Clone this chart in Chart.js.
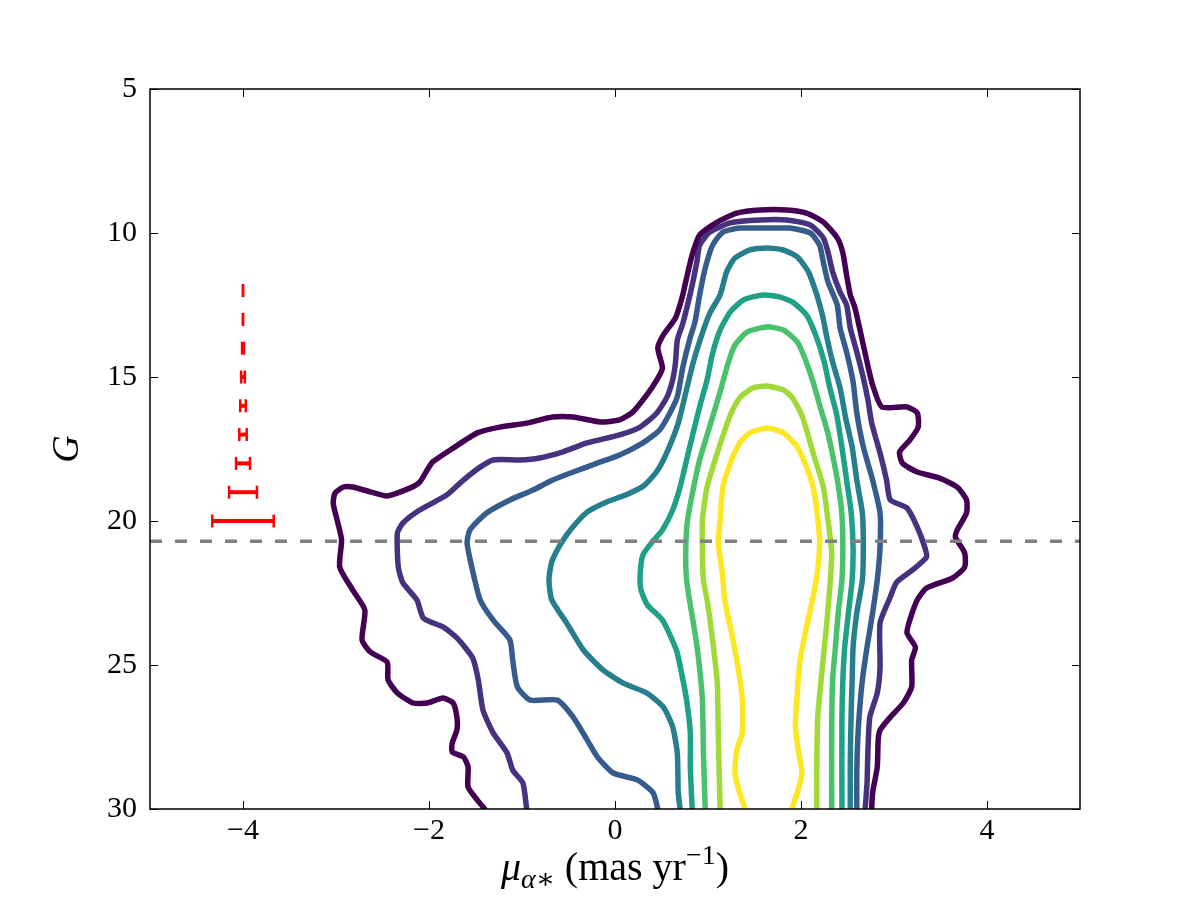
<!DOCTYPE html>
<html>
<head>
<meta charset="utf-8">
<script src="https://cdn.jsdelivr.net/npm/chart.js@4.4.0/dist/chart.umd.min.js"></script>
<style>
  body { margin: 0; background: #fff; }
  canvas { display: block; }
</style>
</head>
<body>
<canvas id="contourChart" width="1200" height="900"></canvas>
<script>
// tick values
const xTicks = [-4, -2, 0, 2, 4];
const gTicks = [5, 10, 15, 20, 25, 30];

// contour colours, outermost level first (viridis)
const levelColors = ['#440154', '#46327e', '#365c8d', '#277f8e', '#1fa187', '#4ac16d', '#a0da39', '#fde725'];

// contour paths as [mu, G] pairs
const level1 = [[-1.40,30.0],[-1.48,29.69],[-1.58,29.24],[-1.58,28.54],[-1.63,28.19],[-1.75,28.02],[-1.75,27.71],[-1.70,27.26],[-1.70,26.81],[-1.74,26.32],[-1.85,26.15],[-2.02,26.32],[-2.17,26.32],[-2.34,25.97],[-2.44,25.52],[-2.45,24.90],[-2.63,24.55],[-2.72,24.13],[-2.69,23.09],[-2.82,22.40],[-2.96,21.60],[-2.94,20.66],[-2.98,20.07],[-3.03,19.38],[-3.01,19.03],[-2.92,18.82],[-2.82,18.82],[-2.63,18.99],[-2.45,19.13],[-2.20,18.85],[-2.10,18.65],[-2.02,18.23],[-1.96,17.95],[-1.74,17.47],[-1.48,16.94],[-1.24,16.74],[-0.95,16.60],[-0.67,16.39],[-0.45,16.39],[-0.16,16.56],[0.05,16.49],[0.19,16.22],[0.34,15.63],[0.45,15.10],[0.51,14.69],[0.46,13.99],[0.52,13.54],[0.65,12.95],[0.72,12.26],[0.77,11.56],[0.83,10.76],[0.91,10.07],[1.10,9.62],[1.31,9.31],[1.56,9.20],[1.85,9.20],[2.06,9.31],[2.24,9.62],[2.39,10.17],[2.45,10.69],[2.49,11.46],[2.53,12.15],[2.58,12.60],[2.63,13.30],[2.71,14.48],[2.77,15.28],[2.87,16.04],[3.14,16.04],[3.25,16.25],[3.26,16.74],[3.17,17.19],[3.06,17.60],[3.09,17.99],[3.25,18.30],[3.49,18.51],[3.68,18.82],[3.78,19.27],[3.78,19.72],[3.68,20.31],[3.66,20.56],[3.76,21.11],[3.76,21.60],[3.63,21.98],[3.35,22.33],[3.25,22.74],[3.17,23.44],[3.14,23.89],[3.23,24.38],[3.19,24.83],[3.19,25.76],[3.10,26.32],[2.96,26.81],[2.85,27.26],[2.83,27.60],[2.82,28.54],[2.77,29.44],[2.76,30.0]];
const level2 = [[-0.95,30.0],[-0.99,29.10],[-1.10,28.65],[-1.16,28.06],[-1.31,27.36],[-1.42,26.56],[-1.47,25.52],[-1.53,24.76],[-1.70,24.06],[-1.85,23.68],[-2.06,23.37],[-2.13,22.74],[-2.28,22.15],[-2.33,21.60],[-2.34,20.42],[-2.28,20.07],[-2.10,19.62],[-1.81,19.10],[-1.63,18.58],[-1.45,18.13],[-1.31,17.88],[-1.02,17.88],[-0.81,17.81],[-0.56,17.60],[-0.30,17.29],[0.05,17.01],[0.27,16.74],[0.45,16.25],[0.56,15.69],[0.62,15.10],[0.65,14.51],[0.67,13.72],[0.73,13.13],[0.78,12.50],[0.83,11.81],[0.88,11.01],[0.91,10.42],[1.02,9.97],[1.24,9.65],[1.56,9.55],[1.85,9.55],[2.10,9.72],[2.24,10.17],[2.29,10.66],[2.34,11.35],[2.42,12.05],[2.49,12.50],[2.53,13.30],[2.60,14.13],[2.67,15.03],[2.72,15.80],[2.76,16.60],[2.85,17.64],[2.92,18.58],[2.96,19.27],[3.14,19.55],[3.25,20.21],[3.33,20.90],[3.35,21.25],[3.20,21.70],[3.03,22.12],[2.96,22.64],[2.85,23.54],[2.85,25.07],[2.82,25.97],[2.74,26.81],[2.72,27.95],[2.71,29.10],[2.69,30.0]];
const level3 = [[0.46,30.0],[0.41,29.44],[0.24,28.99],[-0.02,28.75],[-0.19,28.19],[-0.30,27.60],[-0.45,26.81],[-0.62,26.22],[-0.91,26.22],[-1.05,25.76],[-1.10,24.83],[-1.13,24.13],[-1.31,23.44],[-1.45,22.74],[-1.54,21.60],[-1.59,20.76],[-1.56,20.31],[-1.38,19.72],[-1.13,19.27],[-0.88,18.92],[-0.67,18.58],[-0.45,18.30],[-0.19,17.99],[0.05,17.71],[0.30,17.29],[0.48,16.84],[0.59,16.25],[0.67,15.69],[0.73,14.65],[0.81,13.61],[0.86,13.09],[0.91,12.15],[0.97,11.22],[1.05,10.42],[1.16,9.97],[1.34,9.83],[1.63,9.83],[1.88,9.83],[2.10,10.00],[2.20,10.42],[2.24,11.01],[2.29,11.70],[2.39,12.50],[2.42,13.30],[2.49,14.13],[2.56,15.17],[2.60,16.25],[2.67,17.43],[2.77,18.58],[2.85,19.72],[2.85,20.90],[2.82,22.05],[2.77,23.19],[2.71,24.38],[2.66,25.52],[2.63,26.56],[2.61,27.60],[2.60,28.75],[2.60,30.0]];
const level4 = [[0.70,30.0],[0.68,29.44],[0.67,28.06],[0.62,27.15],[0.52,26.46],[0.34,25.97],[0.09,25.63],[-0.13,25.17],[-0.34,24.48],[-0.52,23.54],[-0.68,22.74],[-0.71,22.05],[-0.68,21.42],[-0.59,20.83],[-0.48,20.31],[-0.30,19.69],[-0.09,19.34],[0.14,19.06],[0.32,18.75],[0.46,18.23],[0.57,17.53],[0.68,16.60],[0.76,15.56],[0.84,14.51],[0.94,13.47],[1.02,12.78],[1.13,12.15],[1.20,11.35],[1.29,10.87],[1.45,10.59],[1.63,10.52],[1.81,10.59],[1.96,10.83],[2.08,11.35],[2.17,12.15],[2.23,12.85],[2.28,13.65],[2.34,14.48],[2.42,15.38],[2.48,16.42],[2.55,17.43],[2.60,18.58],[2.66,19.72],[2.67,20.90],[2.66,22.05],[2.60,23.19],[2.56,24.38],[2.55,25.52],[2.54,26.56],[2.53,28.30],[2.53,30.0]];
const level5 = [[0.83,30.0],[0.81,28.54],[0.81,27.36],[0.77,26.22],[0.72,25.35],[0.66,24.48],[0.51,23.44],[0.35,22.92],[0.28,22.40],[0.27,21.88],[0.30,21.18],[0.40,20.73],[0.51,20.31],[0.62,19.62],[0.70,18.82],[0.77,17.88],[0.84,16.94],[0.91,16.04],[0.99,15.10],[1.05,14.17],[1.13,13.37],[1.24,12.74],[1.38,12.33],[1.59,12.15],[1.77,12.22],[1.91,12.40],[2.06,12.85],[2.17,13.65],[2.25,14.48],[2.31,15.38],[2.38,16.25],[2.44,17.43],[2.49,18.58],[2.54,19.72],[2.56,20.90],[2.55,22.05],[2.51,23.19],[2.47,24.38],[2.45,25.52],[2.44,26.91],[2.44,30.0]];
const level6 = [[0.97,30.0],[0.95,27.95],[0.94,26.22],[0.90,24.83],[0.86,23.89],[0.81,22.92],[0.77,22.05],[0.76,21.11],[0.78,19.97],[0.84,18.92],[0.91,17.88],[1.04,16.49],[1.13,15.52],[1.22,14.48],[1.29,13.89],[1.42,13.44],[1.63,13.26],[1.81,13.37],[1.96,13.78],[2.04,14.34],[2.13,15.17],[2.20,15.97],[2.28,16.84],[2.34,17.71],[2.40,18.75],[2.44,19.79],[2.45,20.90],[2.44,22.05],[2.40,23.19],[2.37,24.38],[2.34,25.52],[2.33,27.36],[2.33,30.0]];
const level7 = [[1.13,30.0],[1.11,27.36],[1.10,25.63],[1.04,23.89],[0.99,22.74],[0.95,22.05],[0.94,21.11],[0.94,19.97],[0.99,18.82],[1.10,17.64],[1.24,16.32],[1.34,15.73],[1.48,15.38],[1.63,15.31],[1.81,15.45],[1.91,15.73],[2.02,16.42],[2.13,17.64],[2.24,18.82],[2.29,19.97],[2.33,21.11],[2.31,22.29],[2.28,23.44],[2.23,25.07],[2.18,26.81],[2.17,28.54],[2.17,30.0]];
const level8 = [[1.40,30.0],[1.34,29.44],[1.29,28.75],[1.31,27.95],[1.37,27.36],[1.37,26.22],[1.31,24.83],[1.24,23.68],[1.18,22.74],[1.15,21.70],[1.11,20.76],[1.13,19.97],[1.16,18.82],[1.24,17.99],[1.34,17.29],[1.45,16.94],[1.63,16.77],[1.81,16.94],[1.96,17.43],[2.06,18.13],[2.13,18.82],[2.17,19.62],[2.20,20.66],[2.18,21.70],[2.13,22.64],[2.06,23.68],[1.99,24.83],[1.96,25.97],[1.94,27.15],[1.97,27.95],[2.01,28.75],[1.96,29.44],[1.90,30.0]];
const levels = [level1, level2, level3, level4, level5, level6, level7, level8];

// magnitude cut (dashed line)
const cutG = 20.7;

// typical proper-motion errors vs magnitude, drawn at mu = -4
const errCenter = -4;
const errG = [12, 13, 14, 15, 16, 17, 18, 19, 20];
const errX = [0.0, 0.0, 0.01, 0.02, 0.03, 0.04, 0.075, 0.15, 0.33];

const serif = '"Liberation Serif", "DejaVu Serif", serif';
const fmtTick = v => String(v).replace('-', '\u2212');

const errorBarPlugin = {
  id: 'errorBars',
  afterDatasetsDraw(chart) {
    const { ctx, scales: { x, y } } = chart;
    ctx.save();
    ctx.strokeStyle = '#ff0000';
    errG.forEach((g, i) => {
      const py = y.getPixelForValue(g);
      const x0 = x.getPixelForValue(errCenter - errX[i]);
      const x1 = x.getPixelForValue(errCenter + errX[i]);
      ctx.lineWidth = 4;
      ctx.beginPath(); ctx.moveTo(x0, py); ctx.lineTo(x1, py); ctx.stroke();
      ctx.lineWidth = 2.5;
      [x0, x1].forEach(px => {
        ctx.beginPath(); ctx.moveTo(px, py - 6.5); ctx.lineTo(px, py + 6.5); ctx.stroke();
      });
    });
    ctx.restore();
  }
};

// box, inward ticks on all sides, and the x label with sub/superscripts
const framePlugin = {
  id: 'frame',
  afterDraw(chart) {
    const { ctx, chartArea: a, scales: { x, y } } = chart;
    ctx.save();
    ctx.strokeStyle = '#000';
    ctx.lineWidth = 1;
    const tl = 8;
    xTicks.forEach(v => {
      const px = Math.round(x.getPixelForValue(v)) + 0.5;
      ctx.beginPath();
      ctx.moveTo(px, a.bottom); ctx.lineTo(px, a.bottom - tl);
      ctx.moveTo(px, a.top); ctx.lineTo(px, a.top + tl);
      ctx.stroke();
    });
    gTicks.forEach(v => {
      const py = Math.round(y.getPixelForValue(v)) + 0.5;
      ctx.beginPath();
      ctx.moveTo(a.left, py); ctx.lineTo(a.left + tl, py);
      ctx.moveTo(a.right, py); ctx.lineTo(a.right - tl, py);
      ctx.stroke();
    });
    ctx.lineWidth = 1.5;
    ctx.strokeRect(a.left, a.top, a.right - a.left, a.bottom - a.top);

    const big = 40, small = 28;
    const parts = [
      { t: '\u03bc', f: `italic ${big}px ${serif}`, dy: 0 },
      { t: '\u03b1\u2217', f: `italic ${small}px ${serif}`, dy: 8 },
      { t: ' (mas yr', f: `${big}px ${serif}`, dy: 0 },
      { t: '\u22121', f: `${small}px ${serif}`, dy: -16 },
      { t: ')', f: `${big}px ${serif}`, dy: 0 }
    ];
    let total = 0;
    parts.forEach(p => { ctx.font = p.f; p.w = ctx.measureText(p.t).width; total += p.w; });
    let cx = (a.left + a.right) / 2 - total / 2;
    const base = 880;
    ctx.fillStyle = '#000';
    ctx.textBaseline = 'alphabetic';
    ctx.textAlign = 'left';
    parts.forEach(p => { ctx.font = p.f; ctx.fillText(p.t, cx, base + p.dy); cx += p.w; });
    ctx.restore();
  }
};

const datasets = [{
  data: [{ x: -5, y: cutG }, { x: 5, y: cutG }],
  borderColor: '#808080',
  borderWidth: 3.5,
  borderDash: [12, 13],
  showLine: true,
  tension: 0
}].concat(levels.map((pts, i) => ({
  data: pts.map(p => ({ x: p[0], y: p[1] })),
  borderColor: levelColors[i],
  borderWidth: 5.5,
  showLine: true,
  tension: 0.2,
  borderJoinStyle: 'round',
  borderCapStyle: 'round'
})));

new Chart(document.getElementById('contourChart'), {
  type: 'scatter',
  data: { datasets: datasets },
  options: {
    responsive: false,
    animation: false,
    layout: { padding: { top: 89, right: 120, left: 0, bottom: 0 } },
    elements: { point: { radius: 0, hoverRadius: 0 } },
    plugins: { legend: { display: false }, tooltip: { enabled: false } },
    scales: {
      x: {
        type: 'linear', min: -5, max: 5,
        afterBuildTicks: s => { s.ticks = xTicks.map(v => ({ value: v })); },
        afterFit: s => { s.height = 91; },
        grid: { display: false, drawTicks: false },
        border: { display: false },
        ticks: { color: '#000', padding: 4, maxRotation: 0, font: { family: serif, size: 30 }, callback: fmtTick }
      },
      y: {
        type: 'linear', min: 5, max: 30, reverse: true,
        afterBuildTicks: s => { s.ticks = gTicks.map(v => ({ value: v })); },
        afterFit: s => { s.width = 150; },
        grid: { display: false, drawTicks: false },
        border: { display: false },
        ticks: { color: '#000', padding: 13, font: { family: serif, size: 30 }, callback: fmtTick },
        title: { display: true, text: 'G', color: '#000', padding: { top: 45, bottom: 0 }, font: { family: serif, size: 38, style: 'italic', lineHeight: 1.2 } }
      }
    }
  },
  plugins: [errorBarPlugin, framePlugin]
});
</script>
</body>
</html>
